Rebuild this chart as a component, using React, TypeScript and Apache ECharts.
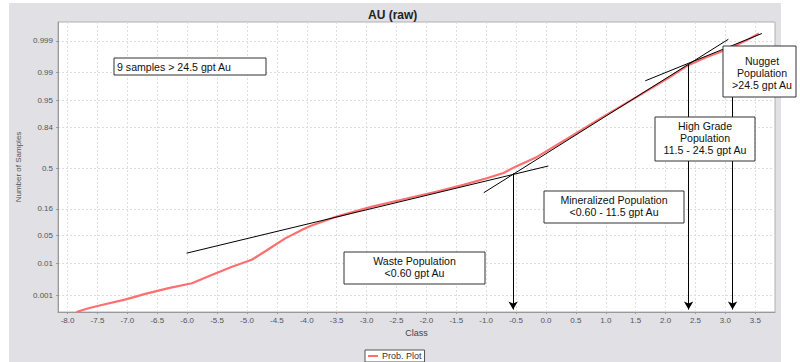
import React, { useEffect, useRef } from "react";
import * as echarts from "echarts";

// X axis ticks (Class)
const xTickValues = [-8.0, -7.5, -7.0, -6.5, -6.0, -5.5, -5.0, -4.5, -4.0, -3.5, -3.0, -2.5, -2.0, -1.5, -1.0, -0.5, 0.0, 0.5, 1.0, 1.5, 2.0, 2.5, 3.0, 3.5];
// Y axis ticks: probability labels and their normal-score positions
const yTickLabels = ["0.001", "0.01", "0.05", "0.16", "0.5", "0.84", "0.95", "0.99", "0.999"];
const yTickZ = [-3.09, -2.326, -1.645, -0.994, 0, 0.994, 1.645, 2.326, 3.09];

// Probability plot curve (class, normal score)
const curveX = [-7.85, -7.65, -7.43, -7.04, -6.70, -6.31, -5.92, -5.59, -5.25, -4.92, -4.70, -4.36, -4.06, -3.94, -3.50, -2.94, -2.38, -1.82, -1.38, -0.99, -0.71, -0.50, -0.15, 0.41, 0.96, 1.52, 2.08, 2.38, 2.69, 3.08, 3.36, 3.56];
const curveZ = [-3.50, -3.41, -3.33, -3.20, -3.06, -2.92, -2.80, -2.60, -2.40, -2.23, -2.03, -1.71, -1.49, -1.41, -1.18, -0.95, -0.76, -0.57, -0.41, -0.25, -0.12, 0.04, 0.27, 0.76, 1.25, 1.73, 2.22, 2.50, 2.70, 2.91, 3.11, 3.27];

// Population tangent lines
const wasteLineX = [-6.01, 0.04];
const wasteLineZ = [-2.07, 0.05];
const mineralLineX = [-1.04, 3.05];
const mineralLineZ = [-0.6, 3.13];
const nuggetLineX = [1.66, 3.61];
const nuggetLineZ = [2.12, 3.27];

// Threshold arrows
const arrowX = [-0.55, 2.385, 3.12];
const arrowTopZ = [-0.13, 2.52, 2.94];
const arrowBottomZ = -3.44;

const FONT = "'Liberation Sans', Arial, sans-serif";

function box(x: number, y: number, w: number, h: number, text: string, cx: number, cy: number, align: string = "center") {
  return {
    type: "group",
    children: [
      {
        type: "rect",
        z: 100,
        shape: { x, y, width: w, height: h },
        style: { fill: "#ffffff", stroke: "#333333", lineWidth: 1 },
      },
      {
        type: "text",
        z: 101,
        x: cx,
        y: cy,
        style: {
          text,
          fill: "#111111",
          font: `10.6px ${FONT}`,
          align,
          verticalAlign: "middle",
          lineHeight: 12,
        },
      },
    ],
  };
}

export default function App() {
  const ref = useRef<HTMLDivElement>(null);
  useEffect(() => {
    document.body.style.margin = "0";
    if (!ref.current) return;
    const chart = echarts.init(ref.current, undefined, { renderer: "svg" });
    const lineSeries = (xs: number[], zs: number[]) => ({
      type: "line",
      data: xs.map((x, i) => [x, zs[i]]),
      showSymbol: false,
      symbol: "none",
      silent: true,
      lineStyle: { color: "#000000", width: 1 },
      z: 3,
    });
    chart.setOption({
      animation: false,
      backgroundColor: "transparent",
      title: {
        text: "AU (raw)",
        left: 363,
        top: 4,
        textStyle: { fontFamily: FONT, fontSize: 12, fontWeight: "bold", color: "#222" },
      },
      legend: {
        data: ["Prob. Plot"],
        left: 365,
        top: 350,
        icon: "rect",
        itemWidth: 10,
        itemHeight: 2,
        itemGap: 4,
        padding: [1, 3, 1, 3],
        borderColor: "#555",
        borderWidth: 1,
        borderRadius: 0,
        backgroundColor: "#fff",
        textStyle: { fontFamily: FONT, fontSize: 9, lineHeight: 10, color: "#333", padding: [0, 0, 0, -1] },
      },
      grid: {
        left: 58,
        right: 25,
        top: 22,
        bottom: 50,
        show: true,
        backgroundColor: "#ffffff",
        borderColor: "#b0b0b0",
        borderWidth: 1,
      },
      xAxis: {
        type: "value",
        min: -8.16,
        max: 3.83,
        name: "Class",
        nameLocation: "middle",
        nameGap: 14,
        nameTextStyle: { fontFamily: FONT, fontSize: 9, color: "#444" },
        axisLine: { show: true, onZero: false, lineStyle: { color: "#999" } },
        axisTick: { show: true, length: 2, customValues: xTickValues, lineStyle: { color: "#999" } },
        axisLabel: {
          customValues: xTickValues,
          fontFamily: FONT,
          fontSize: 8,
          color: "#555",
          margin: 4,
          formatter: (v: number) => v.toFixed(1),
        },
        splitLine: { show: true, lineStyle: { color: "#dedede", type: [2, 2], width: 1 } },
      },
      yAxis: {
        type: "value",
        min: -3.5,
        max: 3.55,
        name: "Number of Samples",
        nameLocation: "middle",
        nameGap: 25,
        nameTextStyle: { fontFamily: FONT, fontSize: 8, color: "#555" },
        axisLine: { show: true, onZero: false, lineStyle: { color: "#999" } },
        axisTick: { show: true, length: 2, customValues: yTickZ, lineStyle: { color: "#999" } },
        axisLabel: {
          customValues: yTickZ,
          fontFamily: FONT,
          fontSize: 8,
          color: "#555",
          margin: 5,
          formatter: (v: number) => {
            let best = 0;
            for (let i = 0; i < yTickZ.length; i++) {
              if (Math.abs(yTickZ[i] - v) < Math.abs(yTickZ[best] - v)) best = i;
            }
            return yTickLabels[best];
          },
        },
        splitLine: { show: true, lineStyle: { color: "#dedede", type: [2, 2], width: 1 } },
      },
      series: [
        {
          name: "Prob. Plot",
          type: "line",
          data: curveX.map((x, i) => [x, curveZ[i]]),
          showSymbol: false,
          symbol: "none",
          lineStyle: { color: "#ff6f6f", width: 2.2 },
          itemStyle: { color: "#ff6f6f" },
          z: 2,
        },
        {
          ...lineSeries(wasteLineX, wasteLineZ),
          markLine: {
            silent: true,
            symbol: ["none", "arrow"],
            symbolSize: [7, 8],
            label: { show: false },
            lineStyle: { color: "#000", width: 1, type: "solid" },
            data: arrowX.map((x, i) => [
              { coord: [x, arrowTopZ[i]] },
              { coord: [x, arrowBottomZ] },
            ]),
          },
        },
        lineSeries(mineralLineX, mineralLineZ),
        lineSeries(nuggetLineX, nuggetLineZ),
      ],
      graphic: [
        box(114, 58, 152, 17, "9 samples > 24.5 gpt Au", 117, 67, "left"),
        box(344, 252, 141, 32, "Waste Population\n<0.60 gpt Au", 414.5, 267),
        box(544, 191, 140, 32, "Mineralized Population\n<0.60 - 11.5 gpt Au", 614, 206),
        box(655, 117, 100, 44, "High Grade\nPopulation\n11.5 - 24.5 gpt Au", 705, 138),
        box(723, 46, 73, 51, "Nugget\nPopulation\n>24.5 gpt Au", 762, 73),
      ],
    });
    return () => chart.dispose();
  }, []);
  return (
    <div style={{ position: "relative", width: 800, height: 362, background: "#ffffff", overflow: "hidden" }}>
      <div style={{ position: "absolute", left: 9, top: 3, width: 772, height: 359, background: "#e0e0e5" }} />
      <div ref={ref} style={{ position: "absolute", left: 0, top: 0, width: 800, height: 362 }} />
    </div>
  );
}
